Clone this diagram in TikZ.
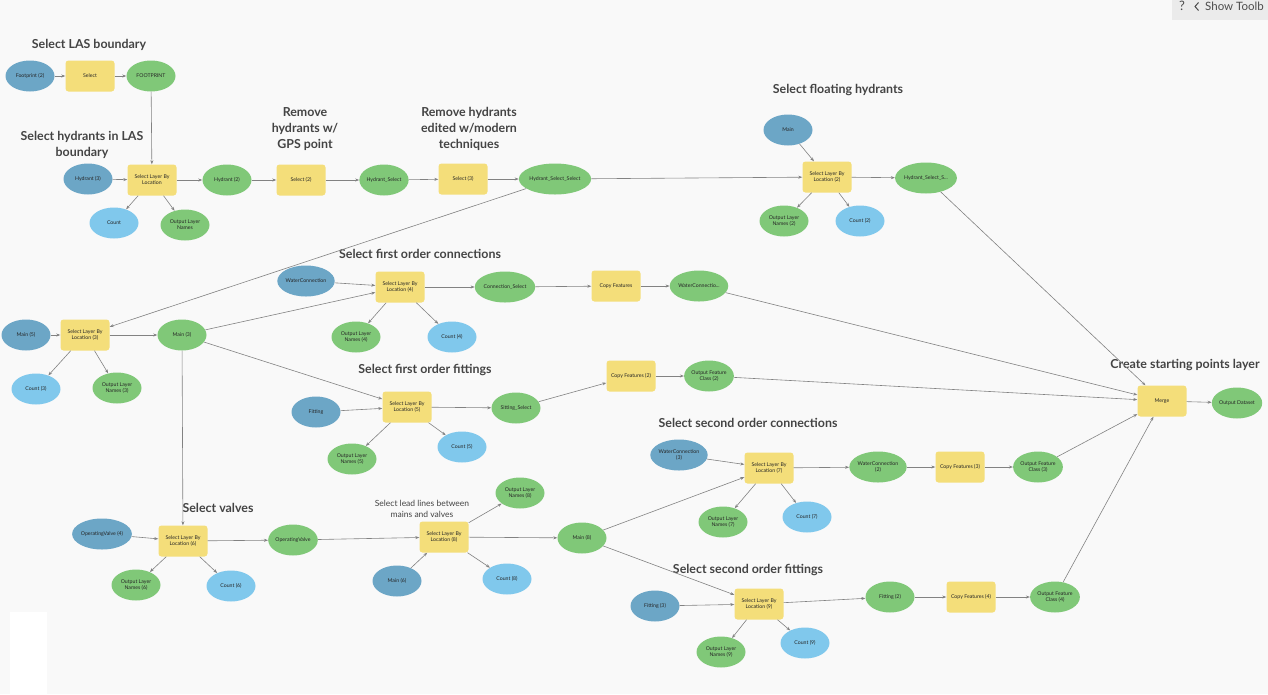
\documentclass[tikz,border=0pt]{standalone}
\usepackage{fontspec}
\setmainfont{Lato}
\usetikzlibrary{arrows.meta,shapes.geometric}
\definecolor{toolc}{RGB}{244,222,122}
\definecolor{inpc}{RGB}{108,166,198}
\definecolor{cntc}{RGB}{128,200,236}
\definecolor{outc}{RGB}{128,200,120}
\definecolor{edgec}{RGB}{130,130,130}
\definecolor{headc}{RGB}{68,68,68}
\definecolor{bgc}{RGB}{249,249,249}
\begin{document}
\begin{tikzpicture}[x=1pt,y=-1pt,
  nodetext/.style={font=\fontsize{5.2}{6.2}\selectfont, text=black!85, align=center},
  toolbox/.style={nodetext, rectangle, rounded corners=3pt, fill=toolc, minimum width=49pt, minimum height=31pt, inner sep=1pt},
  inpell/.style={nodetext, ellipse, fill=inpc, minimum width=49pt, minimum height=31pt, inner sep=0pt},
  cntell/.style={nodetext, ellipse, fill=cntc, minimum width=49pt, minimum height=31pt, inner sep=0pt},
  outell/.style={nodetext, ellipse, fill=outc, minimum width=49pt, minimum height=31pt, inner sep=0pt},
  heading/.style={font=\fontsize{12.4}{16}\selectfont\bfseries, text=headc, align=center},
  lbl/.style={font=\fontsize{8.5}{11.5}\selectfont, text=headc, align=center},
  arr/.style={draw=edgec, line width=0.6pt, -{Stealth[length=4pt,width=3pt]}}]
\fill[bgc] (0,0) rectangle (1268,694);
\useasboundingbox (0,0) rectangle (1268,694);
\fill[white] (10,612) rectangle (47,694);
% toolbar button
\fill[black!8] (1172,0) rectangle (1268,20);
\node[font=\fontsize{13}{14}\selectfont, text=black!70] (qm) at (1182,6) {?};
\draw[black!70, line width=1pt] (1198.5,2.5) -- (1195,6.5) -- (1198.5,10.5);
\node[font=\fontsize{11.5}{13}\selectfont, text=black!70, anchor=west, inner sep=0pt] (tb) at (1205,6) {Show Toolb};

% Select LAS boundary
\node[heading] (h1) at (89,45) {Select LAS boundary};
\node[inpell] (fp2) at (30,76) {Footprint (2)};
\node[toolbox] (sel) at (90,76) {Select};
\node[outell] (fp) at (151,76) {FOOTPRINT};

% Select hydrants in LAS boundary
\node[heading] (h2) at (82,145) {Select hydrants in LAS\\boundary};
\node[inpell] (hy3) at (88,179) {Hydrant (3)};
\node[toolbox] (s1) at (152,180) {Select Layer By\\Location};
\node[outell] (hy2) at (227,180) {Hydrant (2)};
\node[cntell] (c1) at (114,223) {Count};
\node[outell] (o1) at (185,225) {Output Layer\\Names};

\node[heading] (h3) at (305,129) {Remove\\hydrants w/\\GPS point};
\node[toolbox] (sel2) at (301,180) {Select (2)};
\node[outell] (hs) at (384,180) {Hydrant\_Select};
\node[heading] (h4) at (469,129) {Remove hydrants\\edited w/modern\\techniques};
\node[toolbox] (sel3) at (463,179) {Select (3)};
\node[outell, minimum width=67pt] (hss) at (555,179) {Hydrant\_Select\_Select};

% Select floating hydrants
\node[heading] (h5) at (838,90) {Select floating hydrants};
\node[inpell] (mn) at (788,130) {Main};
\node[toolbox] (s2) at (827,177) {Select Layer By\\Location (2)};
\node[outell] (hsx) at (926,178) {Hydrant\_Select\_S...};
\node[outell] (o2) at (784,221) {Output Layer\\Names (2)};
\node[cntell] (c2) at (860,221) {Count (2)};

% left middle
\node[inpell] (m5) at (26,335) {Main (5)};
\node[toolbox] (s3) at (85,335) {Select Layer By\\Location (3)};
\node[outell] (m3) at (182,335) {Main (3)};
\node[cntell] (c3) at (36,389) {Count (3)};
\node[outell] (o3) at (117,388) {Output Layer\\Names (3)};

% first order connections
\node[heading] (h6) at (420,254) {Select first order connections};
\node[inpell] (wc) at (306,281) {WaterConnection};
\node[toolbox] (s4) at (400,287) {Select Layer By\\Location (4)};
\node[outell] (cs) at (505,287) {Connection\_Select};
\node[toolbox] (cf) at (616,286) {Copy Features};
\node[outell] (wc1) at (699,286) {WaterConnectio...};
\node[outell] (o4) at (356,337) {Output Layer\\Names (4)};
\node[cntell] (c4) at (452,337) {Count (4)};

% first order fittings
\node[heading] (h7) at (425,370) {Select first order fittings};
\node[inpell] (fit) at (316,412) {Fitting};
\node[toolbox] (s5) at (407,407) {Select Layer By\\Location (5)};
\node[outell] (sfs) at (516,408) {Sitting\_Select};
\node[toolbox] (cf2) at (631,376) {Copy Features (2)};
\node[outell] (ofc2) at (709,376) {Output Feature\\Class (2)};
\node[outell] (o5) at (352,459) {Output Layer\\Names (5)};
\node[cntell] (c5) at (462,447) {Count (5)};

% second order connections
\node[heading] (h8) at (748,423) {Select second order connections};
\node[inpell] (wc3) at (679,455) {WaterConnection\\(3)};
\node[toolbox] (s7) at (769,468) {Select Layer By\\Location (7)};
\node[outell] (wc2) at (878,467) {WaterConnection\\(2)};
\node[toolbox] (cf3) at (960,467) {Copy Features (3)};
\node[outell] (ofc3) at (1038,467) {Output Feature\\Class (3)};
\node[outell] (o7) at (723,522) {Output Layer\\Names (7)};
\node[cntell] (c7) at (807,517) {Count (7)};

% merge
\node[heading] (h9) at (1185,365) {Create starting points layer};
\node[toolbox] (mrg) at (1162,401) {Merge};
\node[outell] (od) at (1237,403) {Output Dataset};

% valves
\node[heading] (h10) at (218,508) {Select valves};
\node[inpell] (ov4) at (102,534) {OperatingValve (4)};
\node[toolbox] (s6) at (183,541) {Select Layer By\\Location (6)};
\node[outell] (ov) at (293,540) {OperatingValve};
\node[outell] (o6) at (136,585) {Output Layer\\Names (6)};
\node[cntell] (c6) at (231,586) {Count (6)};

% lead lines
\node[lbl] (h11) at (422,509) {Select lead lines between\\mains and valves};
\node[toolbox] (s8) at (444,537) {Select Layer By\\Location (8)};
\node[outell] (o8) at (520,493) {Output Layer\\Names (8)};
\node[outell] (m8) at (582,538) {Main (8)};
\node[inpell] (m6) at (397,581) {Main (6)};
\node[cntell] (c8) at (507,579) {Count (8)};

% second order fittings
\node[heading] (h12) at (748,570) {Select second order fittings};
\node[inpell] (f3) at (655,606) {Fitting (3)};
\node[toolbox] (s9) at (759,604) {Select Layer By\\Location (9)};
\node[outell] (f2) at (890,597) {Fitting (2)};
\node[toolbox] (cf4) at (971,597) {Copy Features (4)};
\node[outell] (ofc4) at (1055,597) {Output Feature\\Class (4)};
\node[outell] (o9) at (721,652) {Output Layer\\Names (9)};
\node[cntell] (c9) at (805,643) {Count (9)};

% connectors
\draw[arr] (fp2) -- (sel);
\draw[arr] (sel) -- (fp);
\draw[arr] (fp) -- (s1);
\draw[arr] (hy3) -- (s1);
\draw[arr] (s1) -- (hy2);
\draw[arr] (hy2) -- (sel2);
\draw[arr] (sel2) -- (hs);
\draw[arr] (hs) -- (sel3);
\draw[arr] (sel3) -- (hss);
\draw[arr] (s1) -- (c1);
\draw[arr] (s1) -- (o1);
\draw[arr] (hss) -- (s2);
\draw[arr] (mn) -- (s2);
\draw[arr] (s2) -- (hsx);
\draw[arr] (s2) -- (o2);
\draw[arr] (s2) -- (c2);
\draw[arr] (hsx) -- (mrg);
\draw[arr] (hss) -- (s3);
\draw[arr] (m5) -- (s3);
\draw[arr] (s3) -- (m3);
\draw[arr] (s3) -- (c3);
\draw[arr] (s3) -- (o3);
\draw[arr] (m3) -- (s4);
\draw[arr] (m3) -- (s5);
\draw[arr] (m3) -- (s6);
\draw[arr] (wc) -- (s4);
\draw[arr] (s4) -- (cs);
\draw[arr] (cs) -- (cf);
\draw[arr] (cf) -- (wc1);
\draw[arr] (wc1) -- (mrg);
\draw[arr] (s4) -- (o4);
\draw[arr] (s4) -- (c4);
\draw[arr] (fit) -- (s5);
\draw[arr] (s5) -- (sfs);
\draw[arr] (sfs) -- (cf2);
\draw[arr] (cf2) -- (ofc2);
\draw[arr] (ofc2) -- (mrg);
\draw[arr] (s5) -- (o5);
\draw[arr] (s5) -- (c5);
\draw[arr] (ov4) -- (s6);
\draw[arr] (s6) -- (ov);
\draw[arr] (s6) -- (o6);
\draw[arr] (s6) -- (c6);
\draw[arr] (ov) -- (s8);
\draw[arr] (m6) -- (s8);
\draw[arr] (s8) -- (o8);
\draw[arr] (s8) -- (m8);
\draw[arr] (s8) -- (c8);
\draw[arr] (m8) -- (s7);
\draw[arr] (m8) -- (s9);
\draw[arr] (wc3) -- (s7);
\draw[arr] (s7) -- (wc2);
\draw[arr] (wc2) -- (cf3);
\draw[arr] (cf3) -- (ofc3);
\draw[arr] (ofc3) -- (mrg);
\draw[arr] (s7) -- (o7);
\draw[arr] (s7) -- (c7);
\draw[arr] (f3) -- (s9);
\draw[arr] (s9) -- (f2);
\draw[arr] (f2) -- (cf4);
\draw[arr] (cf4) -- (ofc4);
\draw[arr] (ofc4) -- (mrg);
\draw[arr] (s9) -- (o9);
\draw[arr] (s9) -- (c9);
\draw[arr] (mrg) -- (od);
\end{tikzpicture}
\end{document}
